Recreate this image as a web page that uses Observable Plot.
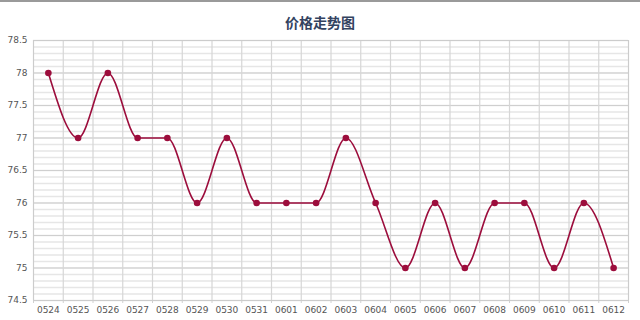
<!DOCTYPE html>
<html>
<head>
<meta charset="utf-8">
<script src="https://cdn.jsdelivr.net/npm/d3@7"></script>
<script src="https://cdn.jsdelivr.net/npm/@observablehq/plot@0.6"></script>
<style>
  html, body { margin: 0; padding: 0; background: #fff; }
  body { position: relative; width: 640px; height: 320px; overflow: hidden; border-top: 2px solid #9a9a9a; box-sizing: border-box; }
  #title { position: absolute; left: 0; right: 0; top: 10px; text-align: center; font-family: "Noto Sans CJK SC", sans-serif; font-weight: bold; font-size: 14px; line-height: 20px; color: #33435f; }
  svg { display: block; }
</style>
</head>
<body>
<div id="chart"></div>
<div id="title">价格走势图</div>
<script>
const dates = ["0524","0525","0526","0527","0528","0529","0530","0531","0601","0602","0603","0604","0605","0606","0607","0608","0609","0610","0611","0612"];
const prices = [78, 77, 78, 77, 77, 76, 77, 76, 76, 76, 77, 76, 75, 76, 75, 76, 76, 75, 76, 75];
const yTicks = [74.5, 75, 75.5, 76, 76.5, 77, 77.5, 78, 78.5];

const data = dates.map((d, i) => ({i, d, p: prices[i]}));
const idx = dates.map((d, i) => i);
const bounds = d3.range(dates.length + 1).map(i => i - 0.5);
const minor = d3.range(745, 786).map(v => v / 10);

const chart = Plot.plot({
  width: 640,
  height: 318,
  marginTop: 38,
  marginBottom: 20,
  marginLeft: 33,
  marginRight: 12,
  x: {type: "linear", domain: [-0.5, dates.length - 0.5], axis: null, label: null},
  y: {domain: [74.5, 78.5], axis: null, label: null},
  style: {fontFamily: "DejaVu Sans, sans-serif", fontSize: "9px", color: "#555"},
  marks: [
    Plot.ruleY(minor, {stroke: "#e6e6e6", strokeWidth: 1.5}),
    Plot.ruleY(yTicks, {stroke: "#cfcfcf", strokeWidth: 1}),
    Plot.ruleX(bounds, {stroke: "#d6d6d6", strokeWidth: 1.2}),
    Plot.axisX(bounds, {tickSize: 3, stroke: "#d0d0d0", tickFormat: () => "", label: null}),
    Plot.axisX(idx, {tickSize: 0, tickPadding: 6, tickFormat: i => dates[i], fill: "#555", label: null}),
    Plot.axisY(yTicks, {tickSize: 0, tickPadding: 6, tickFormat: d => String(d), fill: "#555", label: null}),
    Plot.frame({stroke: "#cccccc"}),
    Plot.line(data, {x: "i", y: "p", curve: "monotone-x", stroke: "#9c0d3c", strokeWidth: 1.6}),
    Plot.dot(data, {x: "i", y: "p", r: 3.3, fill: "#9c0d3c", stroke: "none"})
  ]
});
document.getElementById("chart").appendChild(chart);
</script>
</body>
</html>
